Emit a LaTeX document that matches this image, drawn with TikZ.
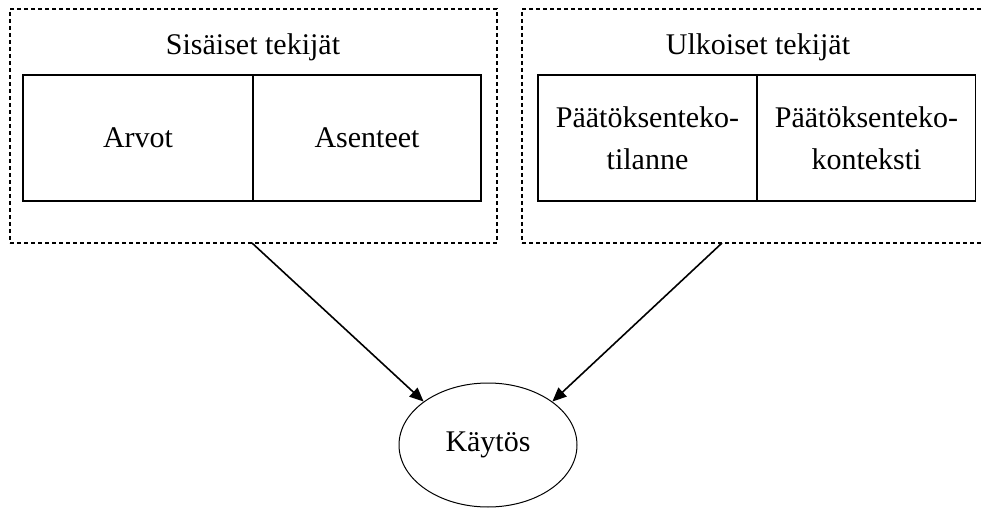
\documentclass[tikz,border=0pt]{standalone}
\usepackage{fontspec}
\setmainfont{Liberation Serif}
\usetikzlibrary{shapes.geometric,arrows.meta}
\begin{document}
\begin{tikzpicture}[x=1pt,y=-1pt,
  every node/.style={font=\fontsize{30}{42}\selectfont},
  group/.style={draw, dash pattern=on 4pt off 3pt, line width=1.2pt, rectangle, inner sep=0pt},
  cell/.style={draw, line width=1.2pt, rectangle, inner sep=0pt, align=center},
  behaviour/.style={draw, ellipse, line width=1pt, inner sep=0pt, minimum width=178pt, minimum height=124pt},
  influence/.style={line width=1.6pt, -{Triangle[length=14pt,width=12pt]}}
]
\useasboundingbox (0,0) rectangle (983,508);
\clip (0,0) rectangle (983,508);

% dashed groups
\node[group, minimum width=487pt, minimum height=234pt] (inner) at (253.5,126) {};
\node[group, minimum width=480pt, minimum height=234pt] (outer) at (762,126) {};

% group titles
\node[anchor=base] (tin) at (253,55) {Sisäiset tekijät};
\node[anchor=base] (tout) at (758,55) {Ulkoiset tekijät};

% cells of the internal factors
\node[cell, minimum width=230pt, minimum height=126pt] (arvot) at (138,138) {Arvot};
\node[cell, minimum width=228pt, minimum height=126pt] (asenteet) at (367,138) {Asenteet};

% cells of the external factors
\node[cell, minimum width=219pt, minimum height=126pt] (tilanne) at (647.5,138) {Päätöksenteko-\\tilanne};
\node[cell, minimum width=218pt, minimum height=126pt] (konteksti) at (866.5,138) {Päätöksenteko-\\konteksti};

% behaviour
\node[behaviour] (kaytos) at (488,445) {Käytös};

% arrow start points on the dashed groups
\coordinate (ia) at (252,243);
\coordinate (oa) at (722,243);

\draw[influence] (ia) -- (kaytos.146);
\draw[influence] (oa) -- (kaytos.34);
\end{tikzpicture}
\end{document}
